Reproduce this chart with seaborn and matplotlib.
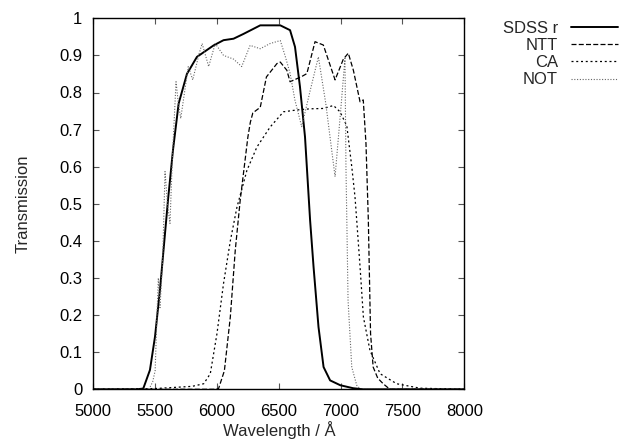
import matplotlib
matplotlib.use("Agg")
import matplotlib.pyplot as plt
import seaborn as sns

# filter curves (wavelength in Angstrom, transmission)
sdss_wl = [5000, 5350, 5404, 5458, 5499, 5539, 5553, 5604, 5644, 5690, 5757, 5838,
           5973, 6053, 6134, 6215, 6350, 6512, 6591, 6631, 6671, 6712, 6753, 6781,
           6821, 6862, 6915, 6997, 7100, 7182, 8000]
sdss_t = [0, 0, 0.002, 0.052, 0.142, 0.268, 0.32, 0.51, 0.644, 0.77, 0.85, 0.896,
          0.927, 0.941, 0.945, 0.958, 0.981, 0.981, 0.968, 0.923, 0.816, 0.68, 0.456, 0.33,
          0.168, 0.06, 0.024, 0.011, 0.003, 0, 0]

ntt_wl = [5000, 5990, 6013, 6060, 6108, 6148, 6188, 6250, 6270, 6290, 6350, 6400,
          6485, 6512, 6565, 6591, 6685, 6727, 6793, 6860, 6955, 7022, 7062, 7103,
          7157, 7183, 7205, 7224, 7242, 7263, 7300, 7344, 7398, 8000]
ntt_t = [0, 0, 0.002, 0.05, 0.195, 0.375, 0.51, 0.68, 0.72, 0.745, 0.76, 0.842,
         0.878, 0.882, 0.86, 0.829, 0.843, 0.851, 0.937, 0.928, 0.834, 0.89, 0.906, 0.86,
         0.775, 0.78, 0.662, 0.456, 0.15, 0.06, 0.03, 0.015, 0, 0]

ca_wl = [5000, 5500, 5800, 5893, 5946, 6000, 6053, 6108, 6161, 6242, 6323, 6430,
         6538, 6646, 6753, 6862, 6942, 6995, 7050, 7090, 7116, 7130, 7157, 7184,
         7237, 7319, 7453, 7641, 8000]
ca_t = [0, 0.002, 0.008, 0.015, 0.042, 0.15, 0.285, 0.40, 0.49, 0.59, 0.653, 0.707,
        0.748, 0.753, 0.756, 0.757, 0.765, 0.748, 0.71, 0.6, 0.519, 0.456, 0.33, 0.195,
        0.105, 0.042, 0.015, 0.003, 0]

not_wl = [5000, 5450, 5480, 5500, 5515, 5526, 5539, 5561, 5580, 5600, 5620, 5639,
          5669, 5688, 5707, 5768, 5804, 5857, 5880, 5933, 5986, 6053, 6134, 6200,
          6268, 6350, 6430, 6512, 6550, 6591, 6630, 6685, 6750, 6820, 6880, 6955,
          7000, 7035, 7043, 7050, 7060, 7090, 7130, 7160, 8000]
not_t = [0, 0, 0.02, 0.05, 0.2, 0.30, 0.22, 0.35, 0.587, 0.5, 0.447, 0.62,
         0.829, 0.77, 0.73, 0.87, 0.834, 0.906, 0.932, 0.87, 0.932, 0.90, 0.89, 0.87,
         0.927, 0.918, 0.932, 0.94, 0.9, 0.852, 0.78, 0.708, 0.80, 0.896, 0.77, 0.573,
         0.75, 0.892, 0.6, 0.456, 0.24, 0.06, 0.011, 0, 0]

x_ticks = [5000, 5500, 6000, 6500, 7000, 7500, 8000]
y_ticks = [0, 0.1, 0.2, 0.3, 0.4, 0.5, 0.6, 0.7, 0.8, 0.9, 1]
y_labels = ["0", "0.1", "0.2", "0.3", "0.4", "0.5", "0.6", "0.7", "0.8", "0.9", "1"]

sns.set_style("ticks")
plt.rcParams["font.family"] = ["Liberation Sans", "DejaVu Sans"]
plt.rcParams["font.size"] = 12

fig = plt.figure(figsize=(6.23, 4.43), dpi=100)
ax = fig.add_axes([93.3 / 623, 1 - 389.3 / 443, 371 / 623, 371 / 443])

sns.lineplot(x=sdss_wl, y=sdss_t, ax=ax, color="black", linewidth=1.4, label="SDSS r")
sns.lineplot(x=ntt_wl, y=ntt_t, ax=ax, color="black", linewidth=0.9,
             linestyle=(0, (4, 1.8)), label="NTT")
sns.lineplot(x=ca_wl, y=ca_t, ax=ax, color="black", linewidth=0.9,
             linestyle=(0, (1.6, 2.2)), label="CA")
sns.lineplot(x=not_wl, y=not_t, ax=ax, color="#666666", linewidth=0.8,
             linestyle=(0, (1, 1.5)), label="NOT")

ax.set_xlim(5000, 8000)
ax.set_ylim(0, 1)
ax.set_xticks(x_ticks)
ax.set_xticklabels([str(v) for v in x_ticks])
ax.set_yticks(y_ticks)
ax.set_yticklabels(y_labels)
ax.tick_params(direction="in", length=4, width=0.8, color="#555555",
               top=True, right=True, labelsize=12, labelcolor="black")
ax.tick_params(axis="y", pad=8)
ax.tick_params(axis="x", pad=10.5)
for s in ax.spines.values():
    s.set_color("black")
    s.set_linewidth(1.0)

ax.set_xlabel("Wavelength / Å", fontsize=12)
ax.set_ylabel("Transmission", fontsize=12)
ax.xaxis.set_label_coords(0.5, -0.085)
ax.yaxis.set_label_coords(-0.17, 0.5)

# markerfirst=False right-aligns the labels against the line samples
ax.legend(loc="upper right", bbox_to_anchor=(618 / 623, 1 - 21 / 443),
          bbox_transform=fig.transFigure, frameon=False, markerfirst=False,
          handlelength=2.85, handletextpad=0.75, labelspacing=0.13,
          borderpad=0, borderaxespad=0, fontsize=12)

fig.savefig("out.png", dpi=100)
